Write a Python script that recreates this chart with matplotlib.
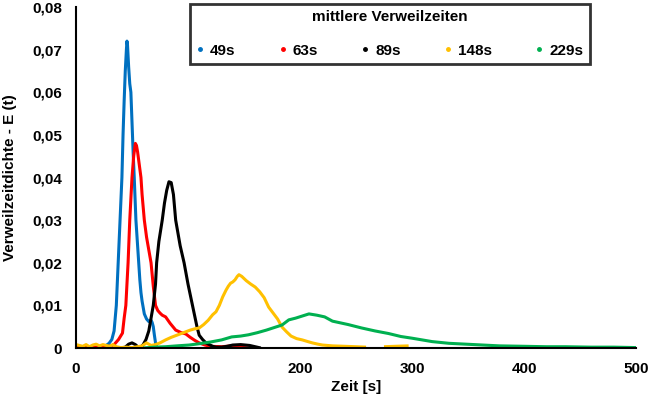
import numpy as np
import matplotlib.pyplot as plt
from matplotlib.lines import Line2D
from matplotlib.ticker import FuncFormatter

plt.rcParams['font.family'] = ['Liberation Sans', 'DejaVu Sans']
plt.rcParams['font.weight'] = 'bold'

# residence time density curves
t_49 = [0, 5, 10, 15, 20, 25, 29.5, 32, 34, 36, 38, 40, 41, 42, 43, 44, 45, 45.5, 46, 47, 48, 49, 50,
        51, 52, 53.5, 55, 56, 57, 58, 59, 61, 63, 65, 67, 68, 69, 70, 71, 72, 73]
e_49 = [0.0003, 0.0002, 0.0001, 0.0002, 0.0001, 0.0002, 0.0011, 0.002, 0.004, 0.010, 0.022, 0.034,
        0.040, 0.050, 0.058, 0.065, 0.070, 0.072, 0.071, 0.066, 0.062, 0.060, 0.053, 0.046, 0.040,
        0.030, 0.024, 0.020, 0.016, 0.013, 0.011, 0.008, 0.0068, 0.0062, 0.0065, 0.006, 0.005, 0.003,
        0.0012, 0.0002, 0.0]

t_63 = [0, 10, 20, 30, 34, 38, 41.5, 43, 44.5, 46.5, 48, 50, 51.5, 53, 54, 55, 56.5, 58, 59, 61, 63,
        65, 67, 69, 71, 73, 75, 77, 80, 84, 89, 94, 98, 102, 106, 110, 115, 120, 130, 139, 145, 150, 155]
e_63 = [0.0002, 0.0001, 0.0002, 0.0004, 0.0008, 0.002, 0.0035, 0.007, 0.010, 0.020, 0.030, 0.040,
        0.045, 0.048, 0.0475, 0.046, 0.043, 0.040, 0.036, 0.030, 0.026, 0.023, 0.020, 0.0145, 0.010,
        0.0088, 0.0082, 0.0077, 0.0073, 0.0058, 0.0042, 0.0036, 0.0033, 0.0025, 0.0018, 0.0012,
        0.0007, 0.0004, 0.0003, 0.0005, 0.0003, 0.0001, 0.0]

t_89 = [40, 44, 47, 50, 53, 56, 58, 60, 62.5, 65, 67, 69, 71, 72, 74, 77, 79, 81, 83, 85, 87, 89, 91,
        93, 96.5, 100, 104, 106, 108, 110, 113, 116, 119, 122, 125, 130, 135, 140, 147, 155, 160, 165]
e_89 = [0.0, 0.0002, 0.0009, 0.0012, 0.0008, 0.0001, 0.0002, 0.0008, 0.002, 0.004, 0.007, 0.010,
        0.015, 0.020, 0.025, 0.030, 0.034, 0.037, 0.039, 0.0388, 0.036, 0.030, 0.027, 0.024, 0.020,
        0.015, 0.010, 0.0075, 0.005, 0.003, 0.002, 0.0012, 0.0008, 0.0004, 0.0002, 0.0002, 0.0004,
        0.0007, 0.0008, 0.0006, 0.0003, 0.0]

t_148 = [0, 3, 6, 9, 12, 15, 18, 21, 24, 27, 30, 33, 36, 40, 45, 50, 55, 59, 63, 67, 71, 75, 80, 85,
         90, 95, 98, 102, 106, 110, 114, 118, 122, 125, 128, 131, 134, 136, 138, 140, 142, 144, 145.5,
         148, 152, 156, 160, 164, 168, 172, 176, 180, 184, 188, 192, 197, 202, 207, 211, 216, 220,
         229, 240, 250, 259, 267, 275, 285, 297]
e_148 = [0.0008, 0.0006, 0.0004, 0.0008, 0.0003, 0.0007, 0.0009, 0.0005, 0.0008, 0.0006, 0.0004,
         0.0008, 0.0003, 0.0001, 0.0002, 0.0001, 0.0003, 0.0005, 0.0012, 0.0006, 0.0008, 0.0012,
         0.0019, 0.0025, 0.003, 0.0035, 0.0038, 0.0042, 0.0045, 0.0047, 0.0055, 0.0065, 0.0078,
         0.0085, 0.010, 0.012, 0.0136, 0.0145, 0.0152, 0.0155, 0.016, 0.0168, 0.0172, 0.0168, 0.0158,
         0.0150, 0.0143, 0.0132, 0.0118, 0.0096, 0.0082, 0.0068, 0.0049, 0.0038, 0.0028, 0.0022,
         0.0019, 0.0015, 0.0012, 0.0009, 0.0007, 0.0005, 0.0004, 0.0003, 0.0002, np.nan, 0.0003,
         0.0004, 0.0005]

t_229 = [60, 70, 80, 90, 101, 110, 120, 130, 139, 147, 154, 162, 170, 177, 184, 190, 196, 202, 208,
         215, 222, 229, 243, 255, 267, 279, 290, 300, 318, 333, 348, 363, 378, 400, 420, 437, 460,
         480, 500]
e_229 = [0.0, 0.0002, 0.0003, 0.0005, 0.0007, 0.0010, 0.0014, 0.0019, 0.0026, 0.0028, 0.0031,
         0.0036, 0.0042, 0.0048, 0.0054, 0.0066, 0.0070, 0.0075, 0.0080, 0.0077, 0.0073, 0.0063,
         0.0055, 0.0047, 0.0040, 0.0034, 0.0027, 0.0023, 0.0015, 0.0011, 0.0009, 0.0007, 0.0005,
         0.0004, 0.0003, 0.0003, 0.0002, 0.0002, 0.0001]

labels = ["49s", "63s", "89s", "148s", "229s"]
colors = ["#0070C0", "#FF0000", "#000000", "#FFC000", "#00B050"]
series = [(t_49, e_49), (t_63, e_63), (t_89, e_89), (t_148, e_148), (t_229, e_229)]

fig = plt.figure(figsize=(6.5, 3.94), dpi=100)
ax = fig.add_axes([76 / 650, 46 / 394, 560 / 650, 341 / 394])

for (t, e), c in zip(series, colors):
    ax.plot(t, e, color=c, lw=2.2, solid_capstyle='butt')

ax.set_xlim(0, 500)
ax.set_ylim(0, 0.08)
ax.set_xticks(np.arange(0, 501, 100))
ax.set_yticks(np.arange(0, 0.081, 0.01))
ax.yaxis.set_major_formatter(FuncFormatter(
    lambda v, p: "0" if abs(v) < 1e-9 else f"{v:.2f}".replace(".", ",")))
ax.tick_params(length=0, labelsize=11, pad=10)
for s in ["top", "right"]:
    ax.spines[s].set_visible(False)
for s in ["left", "bottom"]:
    ax.spines[s].set_linewidth(1.5)

ax.set_xlabel("Zeit [s]", fontsize=11, fontweight='bold', va='center')
ax.set_ylabel("Verweilzeitdichte - E (t)", fontsize=11, fontweight='bold', va='center')
ax.xaxis.set_label_coords(0.5, -0.114)
ax.yaxis.set_label_coords(-0.118, 0.5)

handles = [Line2D([], [], color=c, marker='o', ms=2.5, lw=0) for c in colors]
leg = fig.legend(handles, labels, ncol=5, loc='upper left',
                 bbox_to_anchor=(190 / 650, 1 - 4 / 394), borderaxespad=0,
                 title="mittlere Verweilzeiten",
                 title_fontproperties={'weight': 'bold', 'size': 11},
                 prop={'weight': 'bold', 'size': 11},
                 handlelength=0.5, handletextpad=0.4, columnspacing=2.85,
                 frameon=True, fancybox=False, borderpad=0.4, labelspacing=0.5)
leg.get_frame().set_edgecolor('black')
leg.get_frame().set_linewidth(2)
leg._legend_box.sep = 14

fig.savefig("out.png", dpi=100)
